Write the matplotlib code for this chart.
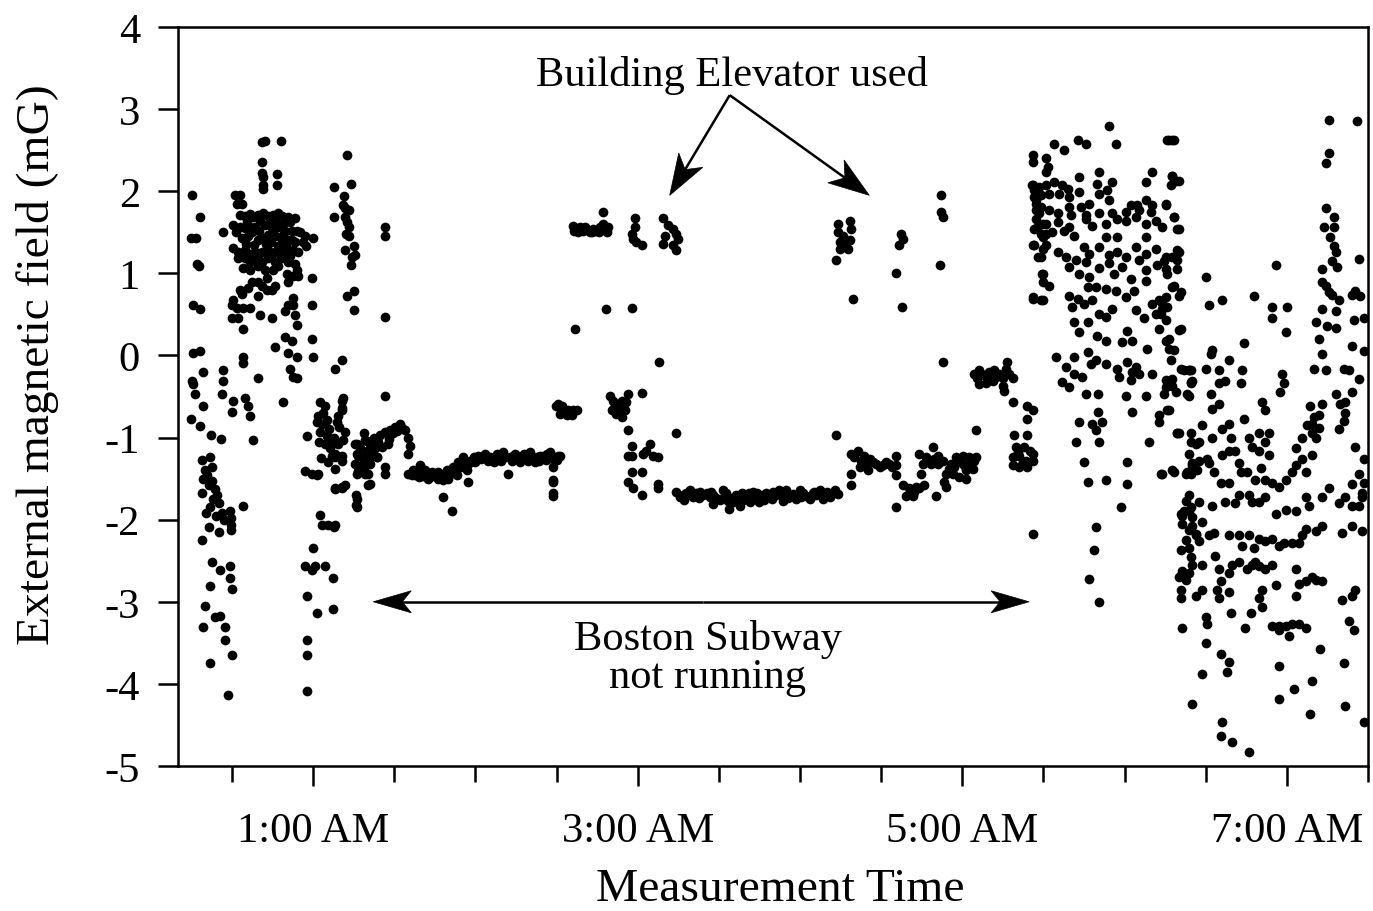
import numpy as np
import matplotlib
matplotlib.use("Agg")
import matplotlib.pyplot as plt
from matplotlib.patches import Polygon
from matplotlib.transforms import IdentityTransform

plt.rcParams['font.family'] = ['Liberation Serif', 'DejaVu Serif']

# Readings as (minutes after midnight, field in mG)
start_column = [
    (15.1, 1.96), (18.2, 1.68), (14.9, 1.43), (16.6, 1.43), (17.6, 1.09), (16.9, 1.11), (15.7, 0.61), (18.2, 0.56),
    (15.7, 0.03), (18.2, 0.06), (19.1, -0.20), (15.1, -0.31), (15.7, -0.35), (16.4, -0.47), (14.8, -0.78), (18.2, -0.86),
    (19.4, -0.62), (22.3, -0.97), (26.0, -1.02), (18.8, -1.27), (21.9, -1.24), (20.0, -1.39), (22.5, -1.36), (19.4, -1.51),
    (22.5, -1.53), (23.7, -1.63), (18.8, -1.68), (23.1, -1.75), (25.0, -1.80), (26.2, -1.92), (29.3, -1.89), (21.3, -2.09),
    (25.0, -2.15), (29.6, -1.98), (29.6, -2.06), (29.6, -2.13), (18.8, -2.25), (34.2, -1.83), (22.5, -2.52), (25.6, -2.61),
    (29.3, -2.57), (29.3, -2.71), (21.9, -2.81), (29.9, -2.85), (20.0, -3.05), (23.7, -3.19), (25.6, -3.17), (27.4, -3.31),
    (27.4, -3.46), (19.4, -3.31), (29.9, -3.65), (21.9, -3.74), (28.4, -4.13), (20.6, -1.45), (21.3, -1.58), (24.4, -1.70),
    (22.0, -1.85), (24.0, -1.95), (27.0, -2.00), (20.5, -1.92), (26.8, -0.18), (26.8, -0.31), (26.2, -0.47), (30.5, -0.55),
    (29.9, -0.69), (34.8, -0.52), (36.0, -0.62), (36.6, -0.74), (37.9, -1.03), (49.0, -0.57), (39.7, -0.28),
]

early_cloud = [
    (41.0, 2.60), (42.0, 2.61), (48.1, 2.61), (41.2, 2.36), (41.0, 2.22), (41.6, 2.17), (46.5, 2.21), (41.6, 2.07),
    (46.5, 2.07), (41.6, 2.03), (31.1, 1.96), (33.0, 1.96), (31.7, 1.84), (33.6, 1.84),
    (33.0, 1.71), (34.8, 1.70), (36.6, 1.72), (37.9, 1.69), (39.7, 1.71), (41.6, 1.74), (43.4, 1.70), (45.3, 1.71),
    (47.1, 1.74), (48.3, 1.70), (50.8, 1.69), (53.3, 1.67),
    (30.5, 1.59), (33.0, 1.57), (34.8, 1.55), (36.6, 1.57), (38.5, 1.57), (42.2, 1.59), (44.6, 1.55), (47.1, 1.57),
    (49.6, 1.52), (52.0, 1.52), (55.1, 1.50), (57.0, 1.45), (60.0, 1.43),
    (26.8, 1.50), (33.6, 1.43), (36.0, 1.45), (39.7, 1.40), (41.6, 1.43), (43.4, 1.47), (45.9, 1.45), (48.3, 1.40),
    (50.8, 1.40), (53.3, 1.38), (56.3, 1.38),
    (30.5, 1.31), (32.3, 1.26), (34.8, 1.28), (36.6, 1.23), (38.5, 1.26), (41.0, 1.26), (43.4, 1.28), (45.9, 1.26),
    (47.7, 1.23), (49.6, 1.28), (52.6, 1.28), (54.5, 1.26),
    (32.3, 1.19), (34.8, 1.19), (36.6, 1.14), (38.5, 1.16), (41.0, 1.14), (43.4, 1.19), (45.9, 1.14), (48.3, 1.19),
    (50.8, 1.14), (53.3, 1.11), (53.9, 1.04),
    (34.2, 1.07), (36.6, 1.04), (39.7, 1.09), (42.2, 1.04), (45.3, 1.04), (47.1, 1.09), (50.2, 0.99), (52.6, 0.97),
    (59.4, 0.94), (37.3, 0.90), (39.7, 0.90), (42.8, 0.94), (45.9, 0.85), (50.8, 0.90), (54.5, 0.97),
    (33.0, 0.80), (36.0, 0.82), (41.0, 0.85), (42.8, 0.80), (44.6, 0.80), (59.4, 0.61),
    (30.5, 0.68), (33.6, 0.75), (39.7, 0.73), (52.6, 0.70), (29.9, 0.61), (31.7, 0.58), (34.2, 0.58), (36.6, 0.58),
    (50.8, 0.61), (52.6, 0.61), (40.3, 0.49), (44.6, 0.46), (49.6, 0.54), (53.3, 0.49), (29.9, 0.46), (32.3, 0.46),
    (53.9, 0.37), (34.2, 0.32), (49.6, 0.22), (52.0, 0.17), (59.4, 0.20), (45.9, 0.10),
    (34.2, -0.02), (50.8, 0.03), (53.9, -0.02), (60.0, -0.02), (34.2, -0.09), (51.4, -0.16), (52.6, -0.26), (53.9, -0.28),
    (35.5, 1.64), (40.5, 1.64), (44.0, 1.62), (46.0, 1.64), (48.8, 1.60), (51.5, 1.62), (35.0, 1.36), (38.0, 1.34),
    (42.5, 1.36), (44.5, 1.38), (47.0, 1.33), (50.0, 1.34), (52.0, 1.40), (31.5, 1.50), (37.5, 1.50), (40.0, 1.52),
    (45.0, 1.50), (49.0, 1.47), (54.0, 1.52), (39.5, 1.21), (44.5, 1.21), (51.5, 1.21), (57.5, 1.33),
]

one_am_burst = [
    (72.4, 2.44), (67.5, 2.05), (73.9, 2.09), (71.5, 1.94), (71.0, 1.83), (71.8, 1.79), (73.1, 1.77), (71.8, 1.68),
    (72.4, 1.62), (73.1, 1.56), (72.2, 1.48), (73.1, 1.46), (67.5, 1.68), (71.8, 1.28), (74.9, 1.33), (75.5, 1.22),
    (74.3, 1.20), (73.9, 1.10), (72.4, 0.73), (75.2, 0.78), (75.2, 0.55),
    (86.6, 1.57), (86.6, 1.45), (86.6, 0.47), (86.6, -0.49),
    (70.6, -0.55), (70.6, -0.67), (68.7, -0.81), (69.4, -0.87), (66.9, -1.06), (68.1, -1.20), (70.6, -1.28),
    (68.1, -1.38), (68.1, -1.62), (70.6, -1.62), (67.5, -2.09),
    (62.5, -0.57), (64.3, -0.62), (61.9, -0.74), (61.3, -0.81), (63.1, -0.84), (65.0, -0.79), (62.5, -0.93),
    (65.0, -0.98), (64.3, -1.08), (66.2, -1.13), (66.8, -1.22), (68.0, -1.24), (70.5, -1.22), (69.2, -1.08),
    (71.1, -1.03), (71.7, -0.93), (70.5, -0.64), (71.1, -0.52), (69.2, -0.74), (63.5, -0.70), (66.0, -0.90),
    (67.5, -1.00), (62.0, -1.05), (65.5, -1.30), (63.0, -1.25),
    (57.6, -0.98), (57.0, -1.41), (59.4, -1.44), (61.3, -1.46), (61.9, -1.44), (68.0, -1.63), (70.5, -1.60),
    (71.7, -1.58), (76.0, -1.70), (76.0, -1.82), (62.5, -1.94), (63.1, -2.06), (65.5, -2.06), (68.0, -2.06),
    (60.0, -2.35), (57.0, -2.57), (59.4, -2.61), (60.6, -2.57), (64.3, -2.57), (67.4, -2.71), (57.6, -2.93),
    (61.3, -3.14), (67.4, -3.09), (57.6, -3.46), (57.6, -3.65), (57.6, -4.09), (70.6, -0.06), (68.1, -0.16),
]

quiet_rise = [
    (76.1, -1.08), (78.6, -0.95), (79.8, -1.04), (82.3, -1.00), (84.8, -0.97), (86.6, -0.93), (88.4, -0.91),
    (90.3, -0.87), (92.1, -0.84), (94.0, -0.91), (95.2, -1.00), (95.8, -1.10), (95.2, -1.20),
    (76.1, -1.20), (78.0, -1.24), (79.8, -1.16), (81.7, -1.20), (83.5, -1.24), (85.4, -1.12), (87.8, -1.08),
    (81.1, -1.32), (78.6, -1.36), (80.4, -1.44), (76.1, -1.44), (80.4, -1.58), (86.6, -1.36), (86.6, -1.44),
    (76.1, -1.75), (76.1, -1.85), (75.4, -1.08), (77.2, -1.13), (79.1, -1.03), (80.9, -1.08), (82.8, -1.13),
    (76.6, -1.22), (79.1, -1.24), (81.5, -1.22), (75.4, -1.32), (77.9, -1.34), (80.3, -1.32), (83.4, -1.24),
    (80.9, -1.56), (79.1, -1.44), (76.6, -1.41), (84.0, -1.05), (89.5, -0.95), (91.0, -0.92), (93.0, -0.88),
    (88.0, -1.02), (82.0, -1.10),
]

quiet_flat = [
    (95.2, -1.44), (96.4, -1.46), (97.7, -1.46), (99.5, -1.34), (102.0, -1.44), (103.2, -1.48), (104.4, -1.46),
    (106.3, -1.50), (108.1, -1.52), (108.7, -1.48), (110.6, -1.44), (111.8, -1.36), (113.1, -1.46), (113.7, -1.30),
    (115.5, -1.24), (116.8, -1.40), (117.4, -1.32), (119.2, -1.28), (121.1, -1.22), (123.5, -1.20), (125.4, -1.24),
    (127.8, -1.20), (130.3, -1.18), (132.1, -1.44), (132.8, -1.24), (134.6, -1.20), (137.1, -1.22), (140.1, -1.18),
    (142.6, -1.24), (145.1, -1.22), (147.5, -1.18), (151.2, -1.22), (117.4, -1.54), (108.1, -1.73), (111.2, -1.89),
    (148.8, -1.54), (148.8, -1.71), (148.8, -1.36),
    (98.5, -1.42), (100.5, -1.47), (101.2, -1.40), (103.8, -1.42), (105.0, -1.44), (107.0, -1.45), (109.5, -1.40),
    (110.0, -1.50), (112.5, -1.40), (114.5, -1.36), (115.0, -1.32), (116.0, -1.30), (118.0, -1.28), (120.0, -1.30),
    (122.0, -1.26), (124.5, -1.28), (126.5, -1.26), (128.8, -1.25), (129.5, -1.28), (131.0, -1.24), (133.5, -1.28),
    (135.5, -1.26), (136.5, -1.30), (138.5, -1.25), (139.5, -1.28), (141.5, -1.26), (143.5, -1.28), (144.0, -1.22),
    (146.0, -1.27), (146.5, -1.22), (148.0, -1.25), (150.0, -1.27), (143.8, -1.24), (146.3, -1.20), (148.7, -1.24),
    (150.6, -1.22), (148.7, -1.52), (148.7, -1.68),
    (97.0, -1.40), (99.0, -1.48), (102.5, -1.50), (106.0, -1.42), (109.0, -1.46), (119.5, -1.24), (123.0, -1.23),
    (127.0, -1.30), (134.0, -1.23), (138.0, -1.20), (142.0, -1.30), (145.5, -1.25),
]

step_0230 = [
    (150.6, -0.59), (152.4, -0.67), (154.3, -0.67), (156.1, -0.67), (157.4, -0.66), (151.2, -0.71), (153.7, -0.73),
    (155.5, -0.73), (149.6, -0.62), (152.0, -0.62), (156.7, 0.32),
]

elevator_first = [
    (156.1, 1.58), (157.4, 1.52), (158.6, 1.56), (159.8, 1.52), (161.0, 1.54), (162.3, 1.50), (163.5, 1.54),
    (164.7, 1.52), (166.0, 1.56), (167.2, 1.60), (167.8, 1.54), (169.0, 1.56), (167.2, 1.75), (156.5, 1.52),
    (158.0, 1.50), (160.5, 1.57), (163.0, 1.50), (165.5, 1.50), (168.5, 1.50),
    (178.9, 1.67), (178.9, 1.56), (177.7, 1.48), (178.3, 1.42), (179.5, 1.38), (181.4, 1.34), (189.4, 1.67),
    (191.2, 1.59), (193.1, 1.54), (190.0, 1.46), (194.3, 1.48), (194.9, 1.42), (189.4, 1.36), (193.1, 1.34),
    (194.3, 1.28), (168.4, 0.56), (178.0, 0.58), (187.9, -0.08),
    (169.7, -0.49), (171.5, -0.61), (174.0, -0.55), (176.4, -0.47), (175.8, -0.57), (170.3, -0.67), (172.1, -0.71),
    (174.0, -0.75), (175.2, -0.67), (181.4, -0.46), (173.0, -0.65), (171.0, -0.55), (176.4, -0.91), (194.3, -0.95),
    (177.7, -1.10), (176.4, -1.22), (177.7, -1.22), (182.0, -1.20), (184.4, -1.08), (185.7, -1.22), (187.5, -1.24),
    (183.2, -1.16), (177.7, -1.42), (181.4, -1.42), (176.4, -1.54), (178.3, -1.62), (181.4, -1.70), (187.5, -1.56),
    (187.5, -1.62),
]

night_floor = [
    (194.3, -1.66), (196.7, -1.70), (199.2, -1.64), (201.7, -1.68), (204.1, -1.70), (206.6, -1.72), (209.1, -1.74),
    (211.5, -1.64), (213.4, -1.77), (215.2, -1.79), (217.7, -1.74), (220.1, -1.72), (222.6, -1.66), (225.0, -1.72),
    (227.5, -1.68), (230.0, -1.66), (232.4, -1.64), (234.9, -1.68), (237.4, -1.70), (207.8, -1.81), (213.9, -1.87),
    (217.7, -1.83), (221.4, -1.79), (225.0, -1.79), (232.4, -1.67), (234.9, -1.64), (237.3, -1.69), (239.8, -1.64),
    (242.3, -1.71), (244.7, -1.67), (247.2, -1.64), (249.7, -1.69), (252.1, -1.67), (254.0, -1.69), (233.6, -1.77),
    (238.6, -1.75), (243.5, -1.75), (248.4, -1.75), (195.5, -1.72), (198.0, -1.68), (200.5, -1.72), (203.0, -1.66),
    (205.5, -1.68), (208.0, -1.70), (210.5, -1.76), (212.0, -1.72), (214.5, -1.74), (216.5, -1.70), (219.0, -1.76),
    (221.0, -1.68), (223.8, -1.74), (226.2, -1.70), (228.8, -1.72), (231.0, -1.70), (236.0, -1.72), (241.0, -1.68),
    (246.0, -1.70), (251.0, -1.72), (253.0, -1.64),
    (197.0, -1.76), (202.5, -1.74), (207.0, -1.66), (212.8, -1.68), (218.5, -1.68), (224.0, -1.68), (229.5, -1.75),
    (235.5, -1.74), (240.5, -1.72), (245.0, -1.66), (250.0, -1.66), (226.5, -1.76), (215.8, -1.75),
]

elevator_second = [
    (254.0, 1.60), (258.3, 1.64), (258.9, 1.54), (254.0, 1.50), (254.6, 1.38), (256.4, 1.36), (258.3, 1.40),
    (257.7, 1.30), (254.6, 1.30), (253.3, 1.16), (256.0, 1.45), (259.5, 0.69), (253.3, -0.97), (277.4, 1.48),
    (278.0, 1.42), (276.7, 1.34), (275.5, 1.00), (277.7, 0.59), (292.1, 1.95), (292.1, 1.75), (292.7, 1.68),
    (291.9, 1.10), (292.7, -0.08),
    (258.9, -1.20), (261.3, -1.16), (263.8, -1.22), (265.7, -1.26), (268.1, -1.32), (270.6, -1.34), (273.0, -1.32),
    (275.5, -1.34), (265.0, -1.40), (262.0, -1.36), (258.9, -1.44), (258.9, -1.58), (275.5, -1.46), (275.5, -1.22),
    (275.5, -1.85), (267.0, -1.30), (269.5, -1.36), (271.8, -1.30), (274.0, -1.36), (262.5, -1.28), (260.0, -1.24),
    (264.5, -1.32), (278.0, -1.58), (280.4, -1.62), (282.3, -1.66), (284.1, -1.62), (286.0, -1.58), (279.2, -1.71),
    (281.7, -1.71), (283.0, -1.60), (284.1, -1.20), (286.6, -1.24), (289.0, -1.12), (290.9, -1.22), (292.7, -1.28),
    (285.4, -1.32), (288.4, -1.32), (290.9, -1.32), (284.7, -1.44), (290.3, -1.71), (287.5, -1.28), (289.5, -1.26),
    (294.0, -1.44), (295.8, -1.32), (297.7, -1.24), (300.1, -1.22), (302.6, -1.24), (304.4, -1.28), (305.0, -1.24),
    (301.4, -1.40), (298.9, -1.48), (296.4, -1.44), (293.4, -1.54), (294.0, -1.60), (301.4, -1.50), (303.8, -1.38),
    (299.0, -1.30), (303.0, -1.32), (297.0, -1.36), (300.5, -1.34), (295.0, -1.38), (305.0, -0.91),
]

pre_dawn = [
    (304.4, -0.22), (306.3, -0.18), (308.1, -0.24), (310.0, -0.20), (311.8, -0.18), (313.7, -0.22), (316.1, -0.16),
    (317.4, -0.22), (318.6, -0.28), (316.7, -0.08), (314.9, -0.37), (306.3, -0.35), (308.7, -0.33), (311.2, -0.31),
    (305.5, -0.28), (309.5, -0.27), (312.5, -0.26), (315.0, -0.28), (307.0, -0.22), (310.8, -0.24), (315.5, -0.43),
    (318.6, -0.57), (324.1, -0.61), (326.0, -0.67), (324.1, -0.77),
    (319.2, -0.97), (324.1, -0.97), (319.8, -1.12), (322.9, -1.12), (326.0, -1.20), (318.6, -1.24), (321.1, -1.22),
    (323.5, -1.28), (318.6, -1.34), (321.1, -1.36), (324.1, -1.36), (326.0, -1.28), (320.5, -1.18), (322.5, -1.30),
    (325.0, -1.16), (326.0, -2.17),
]

subway_start = [
    (325.9, 2.07), (328.4, 2.05), (330.9, 2.07), (326.6, 1.93), (327.2, 1.85), (327.2, 1.77), (328.4, 1.73),
    (329.7, 1.60), (327.8, 1.58), (330.9, 1.48), (329.7, 1.44), (326.6, 1.34), (329.7, 1.30), (327.8, 1.20),
    (329.7, 0.99), (329.7, 0.89), (326.0, 0.69), (329.7, 0.67),
    (354.3, 2.80), (333.9, 2.58), (337.6, 2.50), (342.6, 2.62), (345.6, 2.58), (356.7, 2.58), (375.8, 2.62),
    (377.6, 2.62), (326.0, 2.44), (330.9, 2.40), (331.5, 2.29), (326.0, 2.36), (350.6, 2.23), (343.2, 2.17),
    (330.9, 2.23), (370.3, 2.23), (377.6, 2.19), (380.1, 2.13), (349.9, 2.09), (355.5, 2.11), (367.8, 2.11),
    (326.0, 2.07), (333.9, 2.11), (337.0, 2.07), (338.9, 2.03), (326.6, 2.01), (329.0, 1.95), (332.1, 1.97),
    (335.8, 1.97), (339.5, 1.93), (343.2, 1.99), (350.6, 1.97), (353.6, 2.01), (354.3, 1.89), (362.3, 1.83),
    (364.7, 1.83), (367.8, 1.89), (370.3, 1.83), (375.2, 1.83), (339.5, 1.81), (343.8, 1.81), (346.9, 1.85),
    (327.2, 1.89), (329.0, 1.81), (332.1, 1.77), (335.2, 1.73), (340.1, 1.71), (345.6, 1.71), (350.6, 1.73),
    (355.5, 1.73), (360.4, 1.75), (365.3, 1.77), (369.6, 1.75), (378.3, 1.69), (327.2, 1.66), (330.9, 1.60),
    (335.2, 1.62), (339.5, 1.56), (345.6, 1.66), (348.1, 1.58), (353.0, 1.60), (357.3, 1.66), (360.4, 1.64),
    (364.1, 1.68), (367.8, 1.60), (371.5, 1.64), (380.1, 1.54), (326.6, 1.54), (329.0, 1.48), (333.3, 1.50),
    (337.6, 1.52), (341.3, 1.46), (353.0, 1.44), (357.3, 1.44), (367.8, 1.44), (326.0, 1.34), (330.9, 1.34),
    (335.2, 1.26), (338.3, 1.20), (341.9, 1.16), (345.0, 1.32), (346.9, 1.24), (350.6, 1.32), (354.3, 1.22),
    (357.3, 1.26), (360.4, 1.20), (364.1, 1.32), (367.8, 1.24), (371.5, 1.30), (375.2, 1.20), (380.1, 1.26),
    (329.0, 1.20), (345.6, 1.14), (329.6, 0.99), (332.1, 0.85), (326.0, 0.71), (329.0, 0.67), (339.5, 1.08),
    (343.2, 0.99), (346.9, 0.95), (350.6, 1.06), (354.3, 1.12), (356.1, 0.99), (359.2, 1.08), (362.3, 0.93),
    (365.3, 1.16), (367.8, 1.04), (372.1, 1.10), (375.8, 0.99), (379.5, 1.16), (380.7, 0.77), (339.5, 0.73),
    (342.6, 0.69), (346.3, 0.83), (349.3, 0.83), (353.0, 0.81), (356.7, 0.79), (360.4, 0.71), (363.5, 0.79),
    (370.3, 0.63), (372.7, 0.67), (375.2, 0.71), (377.6, 0.83), (367.8, 0.91), (340.7, 0.59), (345.0, 0.63),
    (348.1, 0.67), (350.6, 0.51), (353.0, 0.47), (355.5, 0.57), (364.1, 0.55), (367.2, 0.45), (371.5, 0.51),
    (374.0, 0.57), (372.7, 0.32), (375.2, 0.18), (380.7, 0.32), (341.3, 0.41), (346.3, 0.41), (343.2, 0.28),
    (349.9, 0.24), (353.0, 0.18), (361.0, 0.30), (359.2, 0.16), (362.9, 0.18), (368.4, 0.08), (376.4, 0.08),
    (334.6, -0.02), (341.3, -0.02), (346.3, 0.04), (349.3, -0.06), (353.0, -0.10), (357.3, -0.16), (361.0, -0.08),
    (362.9, -0.20), (365.3, -0.22), (370.3, -0.22), (338.3, -0.14), (341.3, -0.22), (344.4, -0.26), (347.5, -0.10),
    (357.9, -0.26), (362.3, -0.30), (364.1, -0.14), (375.2, -0.30), (377.6, -0.37), (380.7, -0.16), (383.8, -0.18),
    (384.4, -0.32), (383.2, -0.47), (337.0, -0.32), (339.5, -0.39), (345.6, -0.47), (350.0, -0.47), (360.4, -0.49),
    (367.8, -0.49), (374.6, -0.47), (350.0, -0.69), (343.2, -0.81), (348.1, -0.83), (351.8, -0.81), (349.3, -0.91),
    (362.9, -0.69), (372.7, -0.73), (376.4, -0.67), (372.7, -0.81), (379.5, -0.95), (341.9, -1.06), (350.6, -1.06),
    (369.0, -1.06), (345.0, -1.30), (361.0, -1.30), (346.3, -1.54), (353.0, -1.52), (361.0, -1.56), (373.3, -1.44),
    (377.6, -1.40), (358.6, -1.85), (349.3, -2.09), (348.7, -2.37), (346.9, -2.72), (350.6, -3.00),
    (376.4, 2.62), (378.3, 2.62), (377.6, 2.18), (378.9, 2.13), (377.0, 2.08), (375.2, 1.85), (378.3, 1.69),
    (379.5, 1.54), (373.9, 1.56), (379.5, 1.28), (377.6, 1.20), (374.6, 1.15), (375.2, 1.05), (379.5, 1.05),
    (378.3, 0.85), (380.1, 0.72), (373.9, 0.64), (375.8, 0.59), (373.3, 0.51), (375.2, 0.43), (380.1, 0.31),
    (376.4, 0.20), (378.3, 0.07), (377.0, -0.05), (381.9, -0.18), (384.4, -0.18), (377.6, -0.29), (375.2, -0.39),
    (378.9, -0.44), (384.4, -0.34), (383.8, -0.49), (375.8, -0.67), (380.1, -0.95), (373.9, -1.44), (378.3, -1.42),
]

morning_rush = [
    (384.4, -0.95), (386.3, -1.08), (383.8, -1.20), (385.0, -1.34), (386.9, -1.40), (382.6, -1.44), (380.7, -1.93),
    (382.6, -1.77), (384.4, -1.85), (381.3, -2.05), (383.8, -2.13), (386.3, -2.17), (382.6, -2.25), (380.7, -2.37),
    (384.4, -2.46), (381.3, -2.62), (382.6, -2.74), (380.7, -2.86), (385.0, -1.97), (381.9, -1.89),
    (415.8, 1.10), (390.0, 0.95), (391.2, 0.61), (396.1, 0.67), (407.8, 0.72), (414.6, 0.59), (420.1, 0.59),
    (414.6, 0.46), (419.5, 0.28), (404.1, 0.15), (392.4, 0.07), (391.8, 0.02), (398.6, -0.05), (390.0, -0.16),
    (394.9, -0.18), (403.5, -0.18), (383.8, -0.18), (385.0, -0.31), (394.9, -0.34), (397.3, -0.31), (402.9, -0.34),
    (418.3, -0.23), (418.9, -0.34), (417.6, -0.44), (410.9, -0.57), (412.1, -0.67), (391.8, -0.47), (392.4, -0.65),
    (394.9, -0.59), (388.7, -0.85), (384.4, -1.06), (387.5, -1.06), (385.0, -1.31), (387.5, -1.29), (379.5, -0.95),
    (392.4, -1.00), (396.1, -0.90), (398.6, -0.83), (399.2, -1.00), (404.1, -0.77), (406.0, -1.00), (409.6, -0.95),
    (413.3, -0.95), (409.6, -1.16), (413.3, -1.21), (407.2, -1.11), (412.1, -1.06), (398.6, -1.16), (401.0, -1.16),
    (396.1, -1.21), (390.6, -1.26), (391.2, -1.31), (393.0, -1.42), (384.4, -1.44), (383.2, -1.42), (395.5, -1.55),
    (398.6, -1.55), (402.3, -1.31), (402.9, -1.42), (405.3, -1.42), (408.4, -1.52), (410.3, -1.37), (412.1, -1.52),
    (414.6, -1.55), (417.0, -1.60), (419.5, -1.52), (422.0, -1.42), (423.2, -1.34), (425.6, -1.26), (426.9, -1.42),
    (429.3, -1.21), (430.6, -1.00), (425.6, -1.00), (423.2, -1.13), (427.5, -0.85), (429.3, -0.95), (429.3, -0.83),
    (431.8, -0.88), (383.8, -1.70), (387.5, -1.78), (392.4, -1.83), (397.3, -1.78), (401.0, -1.80), (402.3, -1.70),
    (406.0, -1.70), (407.2, -1.78), (409.6, -1.78), (412.1, -1.72), (415.8, -1.93), (419.5, -1.88), (423.2, -1.90),
    (426.9, -1.72), (428.1, -1.83), (433.0, -1.72), (435.5, -1.62), (439.2, -1.80), (441.6, -1.72), (444.1, -1.83),
    (446.6, -1.83), (447.8, -1.67), (381.3, -1.96), (383.8, -1.90), (385.0, -2.08), (386.3, -2.19), (388.7, -2.03),
    (391.2, -2.19), (393.0, -2.16), (387.5, -2.26), (383.8, -2.34), (398.6, -2.19), (402.3, -2.19), (406.0, -2.19),
    (403.5, -2.32), (407.8, -2.34), (409.6, -2.24), (412.1, -2.26), (414.6, -2.24), (417.0, -2.32), (418.9, -2.29),
    (422.0, -2.29), (424.4, -2.29), (425.6, -2.19), (426.9, -2.11), (430.6, -2.14), (433.0, -2.08), (440.4, -2.16),
    (444.1, -2.08), (447.8, -2.14), (381.3, -2.65), (380.1, -2.70), (383.8, -2.65), (385.0, -2.55), (388.7, -2.55),
    (393.6, -2.44), (394.9, -2.60), (395.5, -2.75), (398.6, -2.65), (399.8, -2.55), (402.3, -2.52), (405.3, -2.60),
    (407.2, -2.55), (408.4, -2.52), (409.6, -2.57), (412.1, -2.60), (414.6, -2.55), (415.8, -2.80), (410.9, -2.86),
    (409.6, -2.96), (423.2, -2.60), (424.4, -2.78), (426.9, -2.75), (429.3, -2.70), (430.6, -2.73), (433.0, -2.75),
    (380.7, -2.96), (386.3, -2.93), (388.7, -2.86), (394.3, -2.86), (394.9, -2.96), (398.6, -2.88), (399.2, -3.14),
    (406.6, -3.14), (410.9, -3.06), (414.6, -3.29), (417.0, -3.29), (419.5, -3.29), (422.0, -3.27), (424.4, -3.27),
    (426.9, -3.32), (423.2, -2.93), (417.0, -3.34), (420.7, -3.42), (440.4, -2.98), (444.1, -2.93), (445.3, -2.86),
    (442.9, -3.24), (444.7, -3.34), (381.3, -3.32), (390.0, -3.19), (390.6, -3.27), (404.7, -3.32), (390.0, -3.50),
    (432.4, -3.57), (388.7, -3.88), (395.5, -3.63), (398.6, -3.73), (398.0, -3.86), (417.0, -3.78), (429.3, -3.96),
    (422.6, -4.06), (441.0, -3.75), (385.0, -4.24), (396.1, -4.47), (395.5, -4.63), (399.8, -4.71), (406.0, -4.83),
    (417.0, -4.19), (428.7, -4.37), (441.6, -4.27), (448.4, -4.47),
    (435.5, 2.87), (446.0, 2.85), (435.5, 2.46), (434.3, 2.34), (434.3, 1.80), (437.3, 1.69), (433.6, 1.56),
    (437.3, 1.56), (436.1, 1.44), (437.3, 1.33), (438.0, 1.26), (436.7, 1.15), (438.6, 1.08), (433.0, 1.05),
    (433.0, 0.90), (434.3, 0.84), (435.5, 0.77), (436.7, 0.74), (439.2, 0.67), (433.0, 0.56), (438.0, 0.54),
    (430.6, 0.41), (434.9, 0.36), (438.0, 0.33), (431.8, 0.20), (433.0, 0.02), (430.0, -0.16), (434.3, -0.18),
    (446.6, 1.18), (445.3, 0.79), (444.1, 0.74), (447.2, 0.72), (444.7, 0.43), (448.4, 0.46), (444.1, 0.12),
    (448.4, 0.05), (441.0, -0.16), (442.9, -0.18), (446.6, -0.29), (438.0, -0.47), (439.8, -0.59), (441.6, -0.57),
    (444.1, -0.44), (433.0, -0.59), (431.8, -0.72), (430.0, -0.75), (428.7, -0.62), (441.6, -0.70), (441.0, -0.80),
    (439.2, -0.90), (445.3, -1.11), (448.4, -1.26), (446.6, -1.44), (444.1, -1.57), (448.4, -1.55), (447.8, -1.72),
]

MAJOR_MINUTES = [60, 180, 300, 420]
MAJOR_LABELS = ["1:00 AM", "3:00 AM", "5:00 AM", "7:00 AM"]
MINOR_MINUTES = [30, 90, 120, 150, 210, 240, 270, 330, 360, 390, 450]
FIELD_TICKS = [-5, -4, -3, -2, -1, 0, 1, 2, 3, 4]

readings = np.array(start_column + early_cloud + one_am_burst + quiet_rise + quiet_flat + step_0230
                    + elevator_first + night_floor + elevator_second + pre_dawn + subway_start + morning_rush)

fig = plt.figure(figsize=(13.73, 9.12), dpi=100)
ax = fig.add_axes([0.12964, 0.15899, 0.86672, 0.81031])

ax.plot(readings[:, 0], readings[:, 1], 'o', ms=7.0, color='black', mec='none')

ax.set_xlim(10, 450)
ax.set_ylim(-5, 4)
ax.set_yticks(FIELD_TICKS)
ax.set_yticklabels([str(v) for v in FIELD_TICKS])
ax.set_xticks(MAJOR_MINUTES)
ax.set_xticklabels(MAJOR_LABELS)
ax.set_xticks(MINOR_MINUTES, minor=True)

ax.tick_params(axis='both', which='major', direction='out', length=14.4, width=1.8,
               labelsize=30.6, color='black', labelcolor='black')
ax.tick_params(axis='x', which='major', pad=18)
ax.tick_params(axis='y', which='major', pad=13)
ax.tick_params(axis='x', which='minor', direction='out', length=11.5, width=1.8)
ax.tick_params(top=False, right=False)
for spine in ax.spines.values():
    spine.set_linewidth(1.8)

fig.text(780 / 1373, 1 - 901 / 912, "Measurement Time", ha='center', va='baseline', fontsize=34.2)
fig.text(49 / 1373, 1 - 365 / 912, "External magnetic field (mG)", ha='center', va='baseline',
         rotation=90, rotation_mode='anchor', fontsize=34.2)


def stealth_arrow(ax, start, tip, head_len=41, half_w=14, notch=30, lw=1.8):
    """Line from start to tip (data coords) with a concave filled head at tip."""
    p0 = ax.transData.transform(start)
    p1 = ax.transData.transform(tip)
    d = p1 - p0
    u = d / np.hypot(*d)
    n = np.array([-u[1], u[0]])
    back = p1 - notch * u
    head = [p1, p1 - head_len * u + half_w * n, back, p1 - head_len * u - half_w * n]
    inv = ax.transData.inverted()
    ax.plot(*zip(inv.transform(p0), inv.transform(back)), color='black', lw=lw,
            solid_capstyle='butt', clip_on=False)
    ax.add_patch(Polygon(head, closed=True, facecolor='black', edgecolor='black', lw=0.5,
                         transform=IdentityTransform(), clip_on=False))


fig.canvas.draw()

# elevator callout
ax.text(214.9, 3.29, "Building Elevator used", ha='center', va='baseline', fontsize=30.6)
stealth_arrow(ax, (214.0, 3.17), (191.8, 1.95))
stealth_arrow(ax, (214.0, 3.17), (265.6, 1.95))

# subway-off interval
stealth_arrow(ax, (204.0, -3.0), (82.2, -3.0), head_len=38, half_w=11, notch=29)
stealth_arrow(ax, (204.0, -3.0), (324.7, -3.0), head_len=38, half_w=11, notch=29)
ax.text(205.8, -3.57, "Boston Subway", ha='center', va='baseline', fontsize=30.6)
ax.text(205.8, -4.04, "not running", ha='center', va='baseline', fontsize=30.6)

fig.savefig("out.png", dpi=100)
